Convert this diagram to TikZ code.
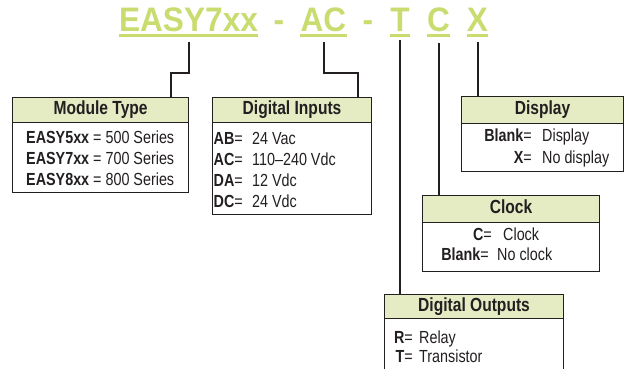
\documentclass[tikz,border=0pt]{standalone}
\usepackage{fontspec}
\setmainfont{Liberation Sans}[FakeStretch=0.82]
\newfontfamily\titlef{Liberation Sans}[FakeStretch=0.93]
\usetikzlibrary{calc}
\definecolor{tgreen}{RGB}{200,220,112}
\definecolor{hfill}{RGB}{229,236,196}
\definecolor{ink}{RGB}{35,31,32}
\begin{document}
\begin{tikzpicture}[x=1pt,y=-1pt,
  ttl/.style={inner sep=0pt, anchor=base, text=tgreen, font=\titlef\bfseries\fontsize{34}{34}\selectfont},
  ul/.style={draw=tgreen, line width=3pt},
  conn/.style={draw=ink, line width=2pt},
  frame/.style={draw=ink, line width=1.1pt, fill=white, inner sep=0pt, anchor=north west},
  hdr/.style={draw=ink, line width=1.1pt, fill=hfill, inner sep=0pt, anchor=north west, text=ink,
    font=\bfseries\fontsize{19}{19}\selectfont, text height=13pt, text depth=3.5pt},
  lab/.style={inner sep=0pt, anchor=base east, text=ink, font=\fontsize{17.5}{17.5}\selectfont},
  val/.style={inner sep=0pt, anchor=base west, text=ink, font=\fontsize{17.5}{17.5}\selectfont},
]
\useasboundingbox (0,0) rectangle (624,368);
\clip (0,0) rectangle (624,368);

% title
\node[ttl] (t1) at (188.5,31) {EASY7xx};
\node[ttl] (d1) at (279,31) {-};
\node[ttl] (t2) at (323.5,31) {AC};
\node[ttl] (d2) at (368,31) {-};
\node[ttl] (t3) at (400,31) {T};
\node[ttl] (t4) at (438.5,31) {C};
\node[ttl] (t5) at (477.5,31) {X};
\foreach \n in {t1,t2,t3,t4,t5}
  \draw[ul] ([yshift=-4pt]\n.base west) -- ([yshift=-4pt]\n.base east);

% Module Type
\node[frame, minimum width=176pt, minimum height=95pt] (mt) at (12,97) {};
\node[hdr, minimum width=176pt, minimum height=25pt] (mth) at (12,97) {Module Type};
\node[val] (mt1) at (26,143) {\textbf{EASY5xx} = 500 Series};
\node[val] (mt2) at (26,164) {\textbf{EASY7xx} = 700 Series};
\node[val] (mt3) at (26,185) {\textbf{EASY8xx} = 800 Series};

% Digital Inputs
\node[frame, minimum width=159pt, minimum height=117pt] (di) at (212,97) {};
\node[hdr, minimum width=159pt, minimum height=25pt] (dih) at (212,97) {Digital Inputs};
\node[lab] (dil1) at (243,144) {\textbf{AB}=};
\node[val] (div1) at (252,144) {24 Vac};
\node[lab] (dil2) at (243,165) {\textbf{AC}=};
\node[val] (div2) at (252,165) {110--240 Vdc};
\node[lab] (dil3) at (243,186) {\textbf{DA}=};
\node[val] (div3) at (252,186) {12 Vdc};
\node[lab] (dil4) at (243,207) {\textbf{DC}=};
\node[val] (div4) at (252,207) {24 Vdc};

% Display
\node[frame, minimum width=162pt, minimum height=75pt] (dp) at (461,96) {};
\node[hdr, minimum width=162pt, minimum height=27pt] (dph) at (461,96) {Display};
\node[lab] (dpl1) at (532,141) {\textbf{Blank}=};
\node[val] (dpv1) at (542,141) {Display};
\node[lab] (dpl2) at (532,163) {\textbf{X}=};
\node[val] (dpv2) at (542,163) {No display};

% Clock
\node[frame, minimum width=177pt, minimum height=76pt] (ck) at (422,195) {};
\node[hdr, minimum width=177pt, minimum height=27pt] (ckh) at (422,195) {Clock};
\node[lab] (ckl1) at (492,240) {\textbf{C}=};
\node[val] (ckv1) at (503,240) {Clock};
\node[lab] (ckl2) at (489,260) {\textbf{Blank}=};
\node[val] (ckv2) at (497,260) {No clock};

% Digital Outputs
\node[frame, minimum width=179pt, minimum height=90pt] (do) at (384,294) {};
\node[hdr, minimum width=179pt, minimum height=24pt] (doh) at (384,294) {Digital Outputs};
\node[lab] (dol1) at (413,343) {\textbf{R}=};
\node[val] (dov1) at (419,343) {Relay};
\node[lab] (dol2) at (413,362) {\textbf{T}=};
\node[val] (dov2) at (419,362) {Transistor};

% connectors
\coordinate (mtbend) at (171,73);
\coordinate (dibend) at (358,73);
\draw[conn] ([yshift=-11pt]t1.base) |- (mtbend) -- (mtbend |- mt.north);
\draw[conn] ([yshift=-11pt]t2.base) |- (dibend) -- (dibend |- di.north);
\draw[conn] ([yshift=-9pt]t3.base) -- (t3.base |- do.north);
\draw[conn] ([yshift=-12pt]t4.base) -- (t4.base |- ck.north);
\draw[conn] ([yshift=-11pt]t5.base) -- (t5.base |- dp.north);
\end{tikzpicture}
\end{document}
